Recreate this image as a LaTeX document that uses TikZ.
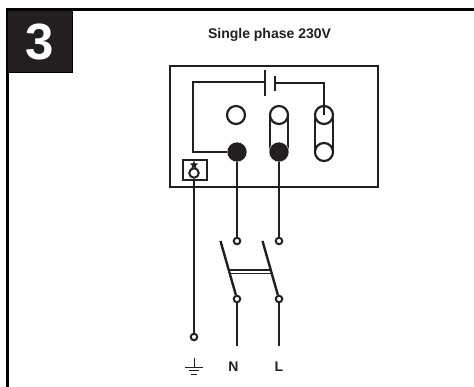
\documentclass[tikz,border=0pt]{standalone}
\usepackage{fontspec}
\usetikzlibrary{shapes.geometric}
\setmainfont{Liberation Sans}
\definecolor{ink}{HTML}{231F20}
\tikzset{
  x=1pt,y=-1pt,
  wire/.style={draw=ink,line width=2.4pt},
  thinwire/.style={draw=ink,line width=1.3pt},
  opencirc/.style={circle,draw=ink,line width=2.2pt,fill=white,minimum size=18pt,inner sep=0pt},
  fullcirc/.style={circle,draw=white,line width=.4pt,fill=ink,minimum size=20pt,inner sep=0pt},
  term/.style={circle,draw=ink,line width=2pt,fill=white,minimum size=6.5pt,inner sep=0pt},
  lab/.style={font=\bfseries\fontsize{14}{15}\selectfont,text=ink,inner sep=0pt},
}
\begin{document}
\begin{tikzpicture}
\useasboundingbox (0,0) rectangle (474,387);
% frame
\draw[black,line width=3pt] (7.5,387) -- (7.5,10) -- (474,10);
\node[fill=ink,draw=black,line width=1pt,minimum width=65pt,minimum height=62pt,inner sep=0pt,anchor=north west] (badge) at (7,10.5) {};
\node[text=white,font=\bfseries\fontsize{51}{51}\selectfont,inner sep=0pt] (num) at (40,42) {3};
\node[lab] (title) at (269.5,35) {Single phase 230V};
% enclosure
\node[draw=ink,line width=2.2pt,minimum width=208pt,minimum height=121pt,inner sep=0pt,anchor=north west] (encl) at (169,65) {};
% coordinates
\coordinate (p1a) at (265,70); \coordinate (p1b) at (265,96);
\coordinate (p2a) at (275,76); \coordinate (p2b) at (275,91);
\coordinate (c1) at (265,82); \coordinate (c2) at (275,83);
\coordinate (k1) at (193,82); \coordinate (k2) at (193,152);
\coordinate (k3) at (324,83);
% straps
\draw[wire] (270,115) -- (270,152) (288,115) -- (288,152);
\draw[wire] (315,115) -- (315,152) (333,115) -- (333,152);
\draw[wire] (p1a) -- (p1b);
\draw[wire] (p2a) -- (p2b);
% terminals
\node[opencirc] (t1) at (236,115) {};
\node[opencirc] (t2) at (279,115) {};
\node[opencirc] (t3) at (324,115) {};
\node[opencirc] (t4) at (324,152) {};
\node[fullcirc] (tn) at (237,152) {};
\node[fullcirc] (tl) at (279,152) {};
% capacitor wiring
\draw[wire] (c1) -- (k1) -- (k2) -- (tn);
\draw[wire] (c2) -- (k3) -- (t3.center);
% earth box
\node[draw=ink,line width=2.2pt,fill=white,minimum width=24pt,minimum height=20pt,inner sep=0pt,anchor=north west] (ebox) at (182,159) {};
\node[circle,draw=ink,line width=2pt,minimum size=9.5pt,inner sep=0pt] (eb) at (194,173) {};
\node[star,star points=5,star point ratio=2.3,fill=ink,minimum size=9pt,inner sep=0pt] (es) at (194,165) {};
% lower terminals
\node[term] (et) at (194,337) {};
\node[term] (nu) at (237,241) {};
\node[term] (lu) at (279,241) {};
\node[term] (nd) at (237,299) {};
\node[term] (ld) at (279,299) {};
\draw[wire] (eb) -- (et);
\draw[wire] (tn) -- (nu);
\draw[wire] (tl) -- (lu);
\coordinate (ne) at (237,346); \coordinate (le) at (279,346);
\draw[wire] (nd) -- (ne);
\draw[wire] (ld) -- (le);
% switch arms
\coordinate (na) at (220.5,241); \coordinate (la) at (262.5,241);
\draw[wire] (na) -- (nd);
\draw[wire] (la) -- (ld);
\coordinate (b1) at (229,270); \coordinate (b2) at (272,270);
\coordinate (b3) at (229.5,273.5); \coordinate (b4) at (272.5,273.5);
\draw[thinwire] (b1) -- (b2);
\draw[thinwire] (b3) -- (b4);
% earth symbol
\coordinate (g0) at (194,358); \coordinate (g1) at (194,367);
\coordinate (g2l) at (185,367); \coordinate (g2r) at (203,367);
\coordinate (g3l) at (188.5,370.5); \coordinate (g3r) at (199,370.5);
\coordinate (g4l) at (191,374); \coordinate (g4r) at (196.5,374);
\draw[ink,line width=.8pt] (g0) -- (g1) (g2l) -- (g2r) (g3l) -- (g3r) (g4l) -- (g4r);
% labels
\node[lab] (lN) at (233.5,367) {N};
\node[lab] (lL) at (279,367) {L};
\end{tikzpicture}
\end{document}
